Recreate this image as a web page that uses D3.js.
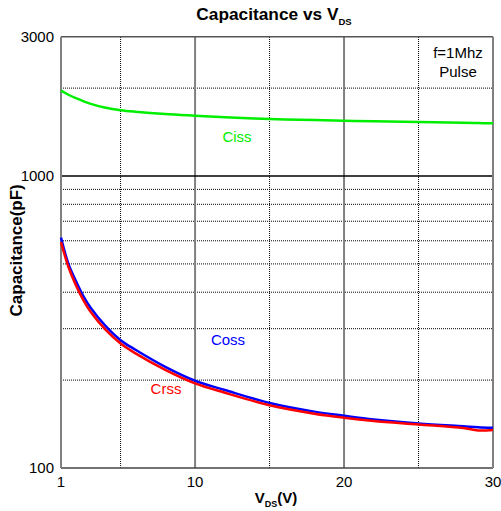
<!DOCTYPE html>
<html>
<head>
<meta charset="utf-8">
<script src="https://cdn.jsdelivr.net/npm/d3@7"></script>
<style>
  body { margin: 0; background: #fff; }
  svg { font-family: Arial, "Liberation Sans", sans-serif; }
</style>
</head>
<body>
<svg id="chart"></svg>
<script>
const width = 501, height = 511;

// data
const vds  = [1, 1.5, 2, 2.5, 3, 4, 5, 6, 8, 10, 12, 15, 18, 20, 22, 25, 28, 29, 30];
const ciss = [1960, 1898, 1848, 1804, 1766, 1712, 1680, 1660, 1630, 1609, 1590, 1567, 1554, 1546, 1540, 1531, 1521, 1518, 1515];
const coss = [615, 500, 437, 388, 353, 306, 274, 254, 222, 199, 185, 167, 156, 151, 146.6, 142, 139, 138, 137.4];
const crss = [594, 488, 423, 376, 342, 297, 267, 247, 217, 195, 181, 164, 153.5, 148.7, 145, 141, 137, 134.5, 135];

const xTicks = [1, 10, 20, 30];
const xMinor = [5, 15, 25];
const yTicks = [100, 1000, 3000];
const yMinor = [200, 300, 400, 500, 600, 700, 800, 900, 2000];

const margin = { top: 36.7, right: 8, bottom: 43, left: 61 };

const svg = d3.select("#chart")
  .attr("width", width)
  .attr("height", height);

const x = d3.scaleLinear()
  .domain([1, 30])
  .range([margin.left, width - margin.right]);

const y = d3.scaleLog()
  .domain([100, 3000])
  .range([height - margin.bottom, margin.top]);

const x0 = x.range()[0], x1 = x.range()[1];
const y0 = y.range()[0], y1 = y.range()[1];

// dotted grid
svg.append("g")
  .selectAll("line")
  .data(yMinor)
  .join("line")
  .attr("x1", x0).attr("x2", x1)
  .attr("y1", d => y(d)).attr("y2", d => y(d))
  .attr("stroke", "#000")
  .attr("stroke-width", 1)
  .attr("stroke-dasharray", "1,1");

svg.append("g")
  .selectAll("line")
  .data(xMinor)
  .join("line")
  .attr("x1", d => x(d)).attr("x2", d => x(d))
  .attr("y1", y0).attr("y2", y1)
  .attr("stroke", "#000")
  .attr("stroke-width", 1)
  .attr("stroke-dasharray", "1,1");

// solid grid
svg.append("g")
  .selectAll("line")
  .data([10, 20])
  .join("line")
  .attr("x1", d => x(d)).attr("x2", d => x(d))
  .attr("y1", y0).attr("y2", y1)
  .attr("stroke", "#808080")
  .attr("stroke-width", 2);

svg.append("line")
  .attr("x1", x0).attr("x2", x1)
  .attr("y1", y(1000)).attr("y2", y(1000))
  .attr("stroke", "#000")
  .attr("stroke-width", 1.5);

// frame
svg.append("line")
  .attr("x1", x0).attr("x2", x1).attr("y1", y1).attr("y2", y1)
  .attr("stroke", "#555").attr("stroke-width", 1.5);
svg.append("line")
  .attr("x1", x0).attr("x2", x1).attr("y1", y0).attr("y2", y0)
  .attr("stroke", "#444").attr("stroke-width", 1.5);
svg.append("line")
  .attr("x1", x0).attr("x2", x0).attr("y1", y0).attr("y2", y1)
  .attr("stroke", "#808080").attr("stroke-width", 2);
svg.append("line")
  .attr("x1", x1).attr("x2", x1).attr("y1", y0).attr("y2", y1)
  .attr("stroke", "#808080").attr("stroke-width", 2);

// tick labels
svg.append("g")
  .selectAll("text")
  .data(xTicks)
  .join("text")
  .attr("x", d => x(d))
  .attr("y", y0 + 19)
  .attr("text-anchor", "middle")
  .style("font-size", "15px")
  .text(d => d);

svg.append("g")
  .selectAll("text")
  .data(yTicks)
  .join("text")
  .attr("x", x0 - 7)
  .attr("y", d => y(d))
  .attr("dy", "0.36em")
  .attr("text-anchor", "end")
  .style("font-size", "15px")
  .text(d => d);

// curves
const line = d3.line()
  .x(d => x(d[0]))
  .y(d => y(d[1]))
  .curve(d3.curveCatmullRom);

const series = [
  { vals: ciss, color: "#00ee00" },
  { vals: coss, color: "#0000ff" },
  { vals: crss, color: "#ff0000" }
];

svg.append("g")
  .selectAll("path")
  .data(series)
  .join("path")
  .attr("d", s => line(vds.map((v, i) => [v, s.vals[i]])))
  .attr("fill", "none")
  .attr("stroke", s => s.color)
  .attr("stroke-width", 2.5);

// series labels
svg.append("text").attr("x", 237).attr("y", 142)
  .attr("text-anchor", "middle").attr("fill", "#00ee00")
  .style("font-size", "15px").text("Ciss");
svg.append("text").attr("x", 228).attr("y", 345)
  .attr("text-anchor", "middle").attr("fill", "#0000ff")
  .style("font-size", "15px").text("Coss");
svg.append("text").attr("x", 166).attr("y", 394)
  .attr("text-anchor", "middle").attr("fill", "#ff0000")
  .style("font-size", "15px").text("Crss");

// note
svg.append("text").attr("x", 458).attr("y", 58)
  .attr("text-anchor", "middle")
  .style("font-size", "15px").text("f=1Mhz");
svg.append("text").attr("x", 458).attr("y", 77)
  .attr("text-anchor", "middle")
  .style("font-size", "15px").text("Pulse");

// title
const title = svg.append("text")
  .attr("x", 274).attr("y", 20)
  .attr("text-anchor", "middle")
  .style("font-size", "17.3px")
  .style("font-weight", "bold");
title.append("tspan").text("Capacitance vs V");
title.append("tspan").attr("dy", 5).style("font-size", "9.5px").text("DS");

// axis titles
const xl = svg.append("text")
  .attr("x", 276).attr("y", 503)
  .attr("text-anchor", "middle")
  .style("font-size", "15px")
  .style("font-weight", "bold");
xl.append("tspan").text("V");
xl.append("tspan").attr("dy", 4).style("font-size", "9px").text("DS");
xl.append("tspan").attr("dy", -4).text("(V)");

svg.append("text")
  .attr("transform", `translate(22, ${(y0 + y1) / 2 - 2}) rotate(-90)`)
  .attr("text-anchor", "middle")
  .style("font-size", "17px")
  .style("font-weight", "bold")
  .text("Capacitance(pF)");
</script>
</body>
</html>
